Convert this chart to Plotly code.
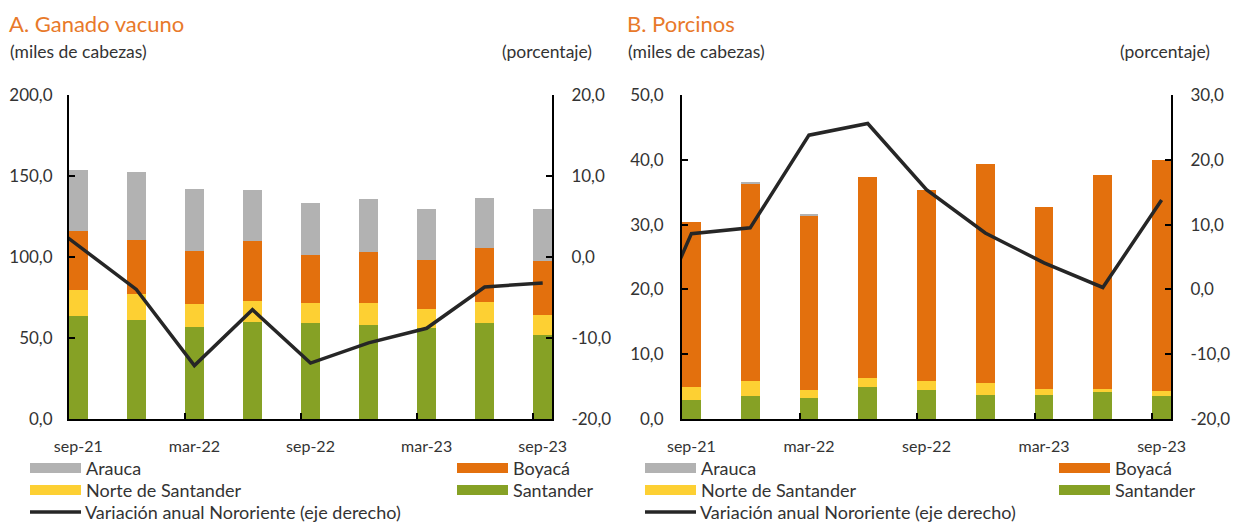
import plotly.graph_objects as go

# quarterly data, sep-21 .. sep-23
quarters = ["sep-21", "dic-21", "mar-22", "jun-22", "sep-22", "dic-22", "mar-23", "jun-23", "sep-23"]

# A. Ganado vacuno (miles de cabezas)
vac_santander = [63.7, 61.4, 56.7, 59.8, 59.0, 58.2, 55.9, 59.0, 51.8]
vac_norte = [15.7, 15.7, 14.1, 13.3, 12.6, 13.4, 11.7, 13.2, 12.7]
vac_boyaca = [36.9, 33.7, 32.9, 36.9, 29.8, 31.3, 30.6, 33.1, 32.8]
vac_arauca = [37.6, 41.6, 38.3, 31.4, 32.1, 33.0, 31.4, 31.2, 32.3]
# variación anual (%), first value is jun-21 (only partly visible at the axis)
vac_var = [6.8, 1.4, -4.0, -13.4, -6.5, -13.1, -10.6, -8.8, -3.7, -3.2]

# B. Porcinos (miles de cabezas)
por_santander = [3.0, 3.6, 3.3, 4.9, 4.4, 3.7, 3.7, 4.2, 3.5]
por_norte = [1.9, 2.3, 1.2, 1.4, 1.5, 1.8, 1.0, 0.5, 0.8]
por_boyaca = [25.5, 30.4, 26.9, 31.1, 29.4, 33.9, 28.0, 32.9, 35.6]
por_arauca = [0.0, 0.15, 0.15, 0.0, 0.0, 0.0, 0.0, 0.0, 0.0]
por_var = [-12.1, 8.6, 9.5, 23.8, 25.6, 15.4, 8.7, 4.1, 0.3, 13.8]

# the page body has an 8px margin, so the figure sits at (8, 8)
OX, OY = 8, 8
W, H = 1232, 515
FONT = "Lato"
TXT = "#333333"
COLORS = {
    "Arauca": "#B2B2B2",
    "Boyacá": "#E3700D",
    "Norte de Santander": "#FDD033",
    "Santander": "#86A125",
}
LINE_COLOR = "#262626"
BAR_W = 0.32


def px(x):
    return (x - OX) / W


def py(y):
    return 1 - (y - OY) / H


def fmt(v):
    return f"{v:.1f}".replace(".", ",")


x_bar = list(range(len(quarters)))
x_line = list(range(-1, len(quarters)))

fig = go.Figure()

panels = [
    ("x", "y", "y2", vac_santander, vac_norte, vac_boyaca, vac_arauca, vac_var),
    ("x2", "y3", "y4", por_santander, por_norte, por_boyaca, por_arauca, por_var),
]
for xa, ya, ya2, s, n, b, a, var in panels:
    for name, vals in [("Santander", s), ("Norte de Santander", n), ("Boyacá", b), ("Arauca", a)]:
        fig.add_trace(go.Bar(
            x=x_bar, y=vals, name=name, width=BAR_W,
            marker=dict(color=COLORS[name], line=dict(width=0)),
            xaxis=xa, yaxis=ya, showlegend=False,
        ))
    fig.add_trace(go.Scatter(
        x=x_line, y=var, mode="lines", name="Variación anual Nororiente (eje derecho)",
        line=dict(color=LINE_COLOR, width=3.5),
        xaxis=xa, yaxis=ya2, showlegend=False,
    ))

xr = [-BAR_W / 2, len(quarters) - 1 + BAR_W / 2]
xaxis_common = dict(
    range=xr, tickmode="array", tickvals=x_bar[::2], ticktext=quarters[::2],
    ticks="", showline=True, linecolor="black", linewidth=2, showgrid=False,
    zeroline=False, ticklabelstandoff=12, automargin=False,
    tickfont=dict(family=FONT, size=16, color=TXT),
    minor=dict(tickmode="array", tickvals=[v - BAR_W / 2 for v in x_bar[2::2]],
               ticks="inside", ticklen=6, tickwidth=2, tickcolor="black"),
)


def yaxis(lo, hi, step, side, standoff, **kw):
    vals = []
    v = lo
    while v <= hi + 1e-9:
        vals.append(v)
        v += step
    return dict(
        range=[lo, hi], tickmode="array", tickvals=vals, ticktext=[fmt(t) for t in vals],
        side=side, ticks="inside", ticklen=6, tickwidth=2, tickcolor="black",
        showline=True, linecolor="black", linewidth=2, showgrid=False, zeroline=False,
        ticklabelstandoff=standoff, automargin=False,
        tickfont=dict(family=FONT, size=17, color=TXT), **kw,
    )


y_top, y_bot = 95, 419
fig.update_layout(
    width=W, height=H,
    margin=dict(l=0, r=0, t=0, b=0),
    paper_bgcolor="white", plot_bgcolor="white",
    barmode="stack", bargap=0,
    showlegend=False,
    xaxis=dict(domain=[px(69), px(552)], anchor="y", **xaxis_common),
    yaxis=dict(domain=[py(y_bot), py(y_top)], anchor="x", **yaxis(0, 200, 50, "left", 11)),
    yaxis2=dict(**yaxis(-20, 20, 10, "right", 14, overlaying="y", anchor="x")),
    xaxis2=dict(domain=[px(682), px(1171)], anchor="y3", **xaxis_common),
    yaxis3=dict(domain=[py(y_bot), py(y_top)], anchor="x2", **yaxis(0, 50, 10, "left", 13)),
    yaxis4=dict(**yaxis(-20, 30, 10, "right", 14, overlaying="y3", anchor="x2")),
)

annotations = []
shapes = []


def text(x, y, s, size, color=TXT, xanchor="left", yanchor="middle"):
    annotations.append(dict(
        x=px(x), y=py(y), xref="paper", yref="paper", text=s, showarrow=False,
        xanchor=xanchor, yanchor=yanchor, font=dict(family=FONT, size=size, color=color),
    ))


# panel titles and axis units
for off, title in [(0, "A. Ganado vacuno"), (618, "B. Porcinos")]:
    text(7 + off, 8, title, 22, color="#E8792A", yanchor="top")
    text(8 + off, 51, "(miles de cabezas)", 17.5)
    text(594 + off, 51, "(porcentaje)", 17.5, xanchor="right")

# legends
for off, col2 in [(0, 457), (615, 1059 - 615)]:
    rows = [(30, 468, "Arauca"), (col2, 468, "Boyacá"),
            (30, 490, "Norte de Santander"), (col2, 490, "Santander")]
    for x0, yc, name in rows:
        shapes.append(dict(type="rect", xref="paper", yref="paper",
                           x0=px(x0 + off), x1=px(x0 + off + 51), y0=py(yc + 5), y1=py(yc - 5),
                           fillcolor=COLORS[name], line=dict(width=0)))
        text(x0 + off + 54, yc, name, 18)
    shapes.append(dict(type="line", xref="paper", yref="paper",
                       x0=px(30 + off), x1=px(81 + off), y0=py(512), y1=py(512),
                       line=dict(color=LINE_COLOR, width=3.5)))
    text(83 + off, 512, "Variación anual Nororiente (eje derecho)", 18)

fig.update_layout(annotations=annotations, shapes=shapes)

fig.write_html("out.html")
